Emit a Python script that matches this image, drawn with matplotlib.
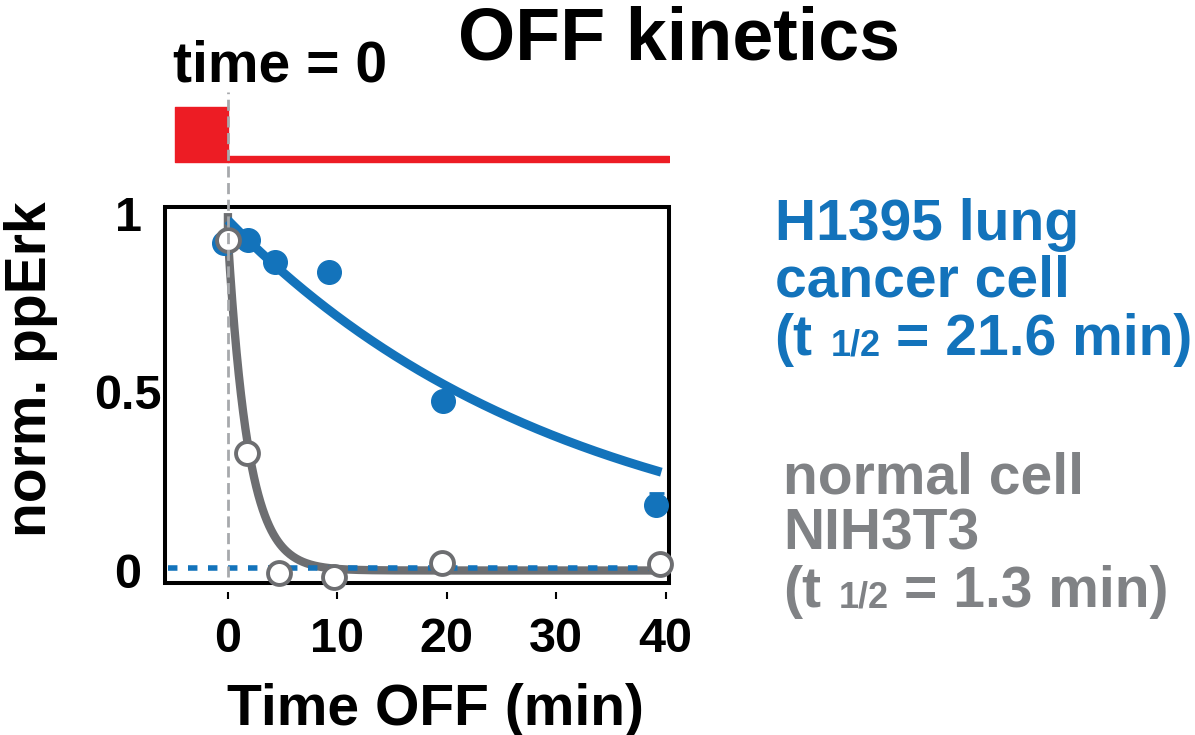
import numpy as np
import matplotlib
matplotlib.use("Agg")
import matplotlib.pyplot as plt
from matplotlib.patches import Rectangle

# valores
t_cancer = [-0.4, 1.85, 4.3, 9.25, 19.65, 39.15]
erk_cancer = [0.915, 0.925, 0.864, 0.834, 0.473, 0.184]
err_cancer = [0, 0, 0, 0, 0, 0.033]

t_normal = [0.0, 1.75, 4.65, 9.7, 19.6, 39.45]
erk_normal = [0.925, 0.328, -0.007, -0.018, 0.021, 0.018]

# ajuste exponencial (t 1/2 de la leyenda)
halflife_cancer = 21.6
halflife_normal = 1.3
amp_cancer = 0.98
amp_normal = 0.93
start_normal = 1.0
fit_end = 39.6
baseline = 0.008

# estimulo de luz
light_on = (-4.85, 0.0)
light_off = (0.0, 40.3)

xticks = [0, 10, 20, 30, 40]
yticks = [0, 0.5, 1]
yticklabels = ["0", "0.5", "1"]

blue = "#1373BB"
gray = "#6D6E71"
gray_txt = "#808285"
red = "#ED1C24"

plt.rcParams["font.family"] = ["Liberation Sans", "DejaVu Sans"]
plt.rcParams["font.weight"] = "bold"

W, H = 1195, 735
fig = plt.figure(figsize=(W / 100, H / 100), dpi=100)


def px(x, y):
    return x / W, 1 - y / H


ax = fig.add_axes([165 / W, (H - 583) / H, 504 / W, 376 / H])
ax_top = fig.add_axes([165 / W, (H - 170) / H, 504 / W, 70 / H])
ax.set_zorder(2)
ax_top.set_zorder(1)

# curvas de ajuste
t_fit = np.linspace(0, fit_end, 400)
fit_cancer = amp_cancer * 0.5 ** (t_fit / halflife_cancer)
fit_normal = amp_normal * 0.5 ** (t_fit / halflife_normal)

ax.plot(np.r_[0, t_fit], np.r_[start_normal, fit_normal], color=gray, lw=6.0,
        solid_capstyle="butt", zorder=2)
ax.plot(t_fit, fit_cancer, color=blue, lw=6.5, solid_capstyle="butt", zorder=2.2)
ax.axhline(baseline, xmin=0.005, xmax=0.988, color=blue, lw=4.0,
           ls=(0, (1.7, 1.9)), zorder=2.5)

ax.errorbar(t_cancer, erk_cancer, yerr=[np.zeros(len(err_cancer)), err_cancer],
            fmt="none", ecolor=blue, elinewidth=2, capsize=5.4, capthick=2, zorder=2.8)
ax.plot(t_cancer, erk_cancer, "o", ms=17, color=blue, mec=blue, zorder=3, clip_on=False)
ax.plot(t_normal, erk_normal, "o", ms=16.5, mfc="white", mec=gray, mew=2.8,
        zorder=4, clip_on=False)

ax.axvline(0, ymin=0.016, ymax=1.306, color="#A7A9AC", lw=2,
           ls=(0, (4, 2)), clip_on=False, zorder=5)

ax.set_xlim(-5.75, 40.3)
ax.set_ylim(-0.035, 1.017)

for s in ax.spines.values():
    s.set_visible(False)
ax.spines["bottom"].set_position(("outward", 6.5))
ax.add_patch(Rectangle((0, 0), 1, 1, transform=ax.transAxes, fill=False,
                       lw=2.9, ec="black", clip_on=False, zorder=1.5))

ax.set_xticks(xticks)
ax.set_yticks(yticks)
ax.set_yticklabels(yticklabels)
ax.tick_params(axis="x", direction="out", length=5, width=1.5, pad=13, labelsize=35)
ax.tick_params(axis="y", length=0, pad=26.6, labelsize=35)
for lab in ax.get_yticklabels():
    lab.set_ha("center")

# barra de luz arriba
ax_top.broken_barh([(light_on[0], light_on[1] - light_on[0])], (0.114, 0.786), color=red)
ax_top.broken_barh([(light_off[0], light_off[1] - light_off[0])], (0.114, 0.086), color=red)
ax_top.set_xlim(-5.75, 40.3)
ax_top.set_ylim(0, 1)
ax_top.axis("off")
ax_top.patch.set_visible(False)

# textos
fig.text(*px(678.5, 59), "OFF kinetics", fontsize=53, ha="center", va="baseline")
fig.text(*px(173, 82), "time = 0", fontsize=41, ha="left", va="baseline")
fig.text(*px(31, 369.5), "norm. ppErk", fontsize=41, rotation=90, ha="center", va="center")
fig.text(*px(435.5, 725), "Time OFF (min)", fontsize=41, ha="center", va="baseline")

fig.text(*px(775, 240), "H1395 lung", fontsize=41, color=blue, va="baseline")
fig.text(*px(775, 297), "cancer cell", fontsize=41, color=blue, va="baseline")
fig.text(*px(774, 355), "(t", fontsize=41, color=blue, va="baseline")
fig.text(*px(831, 355), "1/2", fontsize=26, color=blue, va="baseline")
fig.text(*px(896, 355), "= 21.6 min)", fontsize=41, color=blue, va="baseline")

fig.text(*px(783, 493), "normal cell", fontsize=41, color=gray_txt, va="baseline")
fig.text(*px(783, 550), "NIH3T3", fontsize=41, color=gray_txt, va="baseline")
fig.text(*px(783, 607), "(t", fontsize=41, color=gray_txt, va="baseline")
fig.text(*px(839, 607), "1/2", fontsize=26, color=gray_txt, va="baseline")
fig.text(*px(904, 607), "= 1.3 min)", fontsize=41, color=gray_txt, va="baseline")

fig.savefig("out.png", dpi=100)
